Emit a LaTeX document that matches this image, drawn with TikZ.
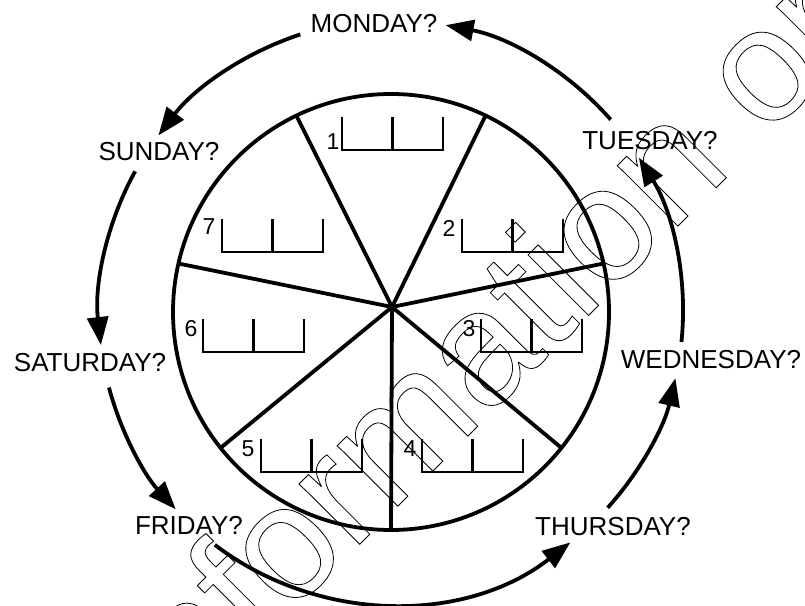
\documentclass[tikz,border=0pt]{standalone}
\usepackage{fontspec}
\setmainfont{Liberation Sans}
\usetikzlibrary{arrows.meta}
\begin{document}
\begin{tikzpicture}[x=1pt,y=1pt,
  day/.style={inner sep=0pt,font=\fontsize{26}{26}\selectfont},
  num/.style={inner sep=0pt,font=\fontsize{23}{23}\selectfont},
  wheel/.style={line width=3.8pt},
  blank/.style={line width=2.3pt},
  daylink/.style={line width=3.8pt,-{Triangle[length=28pt,width=21pt]}}]
\useasboundingbox (0,0) rectangle (805,605);
\node[rotate=45,anchor=base west,inner sep=0pt,font=\fontsize{162}{162}\selectfont] (stamp) at (167,-132)
  {\special{pdf:literal direct 1 Tr 0.8 w}information only\special{pdf:literal direct 0 Tr}};
\coordinate (c) at (391,293);
\coordinate (hub) at (392,298);
\draw[wheel] (c) circle[radius=218];
\foreach \a in {0,...,6}
  \draw[wheel] (hub) -- ([shift={(-90+\a*51.43:218)}]c);
\foreach \n/\x/\y/\bx/\by in {1/333/463/342/488, 2/449/377/462/386, 3/469/276/481/286,
    4/410/156/422/166, 5/248/156/261/166, 6/191/276/203/286, 7/209/378/222/386}{
  \node[num] (n\n) at (\x,\y) {\n};
  \draw[blank] (\bx,\by) -- ++(0,-33) -- ++(101,0) -- ++(0,33) (\bx+50.5,\by) -- ++(0,-33);
}
\node[day] (mon) at (374,581) {MONDAY?};
\node[day] (tue) at (650,464) {TUESDAY?};
\node[day] (wed) at (711,245) {WEDNESDAY?};
\node[day] (thu) at (613,78) {THURSDAY?};
\node[day] (fri) at (189,80) {FRIDAY?};
\node[day] (sat) at (90,242) {SATURDAY?};
\node[day] (sun) at (159,453) {SUNDAY?};
\foreach \s/\e in {41.2/79.2, 108.1/142.8, 151.2/186.5, 195/222.5, 232.9/307.9, 317.9/346.9, 354.1/391.9}
  \draw[daylink] ([shift={(\s:292)}]c) arc[start angle=\s,end angle=\e,radius=292];
\end{tikzpicture}
\end{document}
